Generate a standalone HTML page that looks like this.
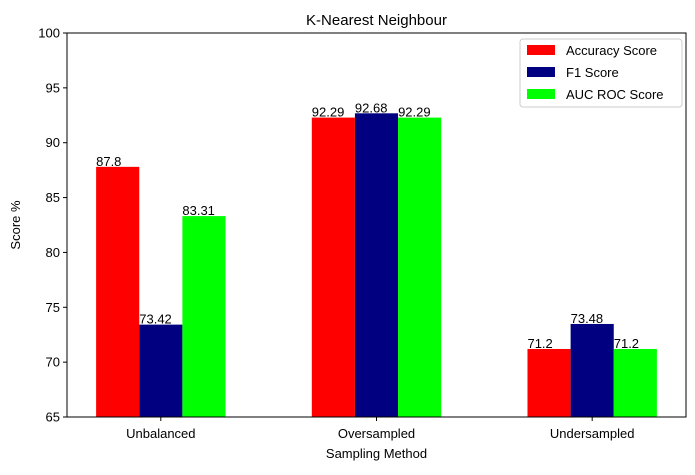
<!DOCTYPE html>
<html><head><meta charset="utf-8"><style>
body{margin:0;background:#fff;font-family:"Liberation Sans","DejaVu Sans",sans-serif;}
</style></head><body>
<svg id="c" width="695" height="470" xmlns="http://www.w3.org/2000/svg"></svg>
<script>
const categories=["Unbalanced","Oversampled","Undersampled"];
const seriesNames=["Accuracy Score","F1 Score","AUC ROC Score"];
const seriesColors=["#ff0000","#000080","#00ff00"];
const accuracy=[87.8,92.29,71.2];
const f1=[73.42,92.68,73.48];
const auc=[83.31,92.29,71.2];
const valueLabels=[["87.8","92.29","71.2"],["73.42","92.68","73.48"],["83.31","92.29","71.2"]];
const yTicks=[65,70,75,80,85,90,95,100];
const series=[accuracy,f1,auc];

const L=67,R=686,T=33,B=417,xmin=-0.435,xmax=2.435,ymin=65,ymax=100;
const sx=v=>L+(v-xmin)/(xmax-xmin)*(R-L);
const sy=v=>B-(v-ymin)/(ymax-ymin)*(B-T);
const svg=document.getElementById('c');
const NS="http://www.w3.org/2000/svg";
function mk(tag,attrs,parent){const e=document.createElementNS(NS,tag);for(const k in attrs)e.setAttribute(k,attrs[k]);(parent||svg).appendChild(e);return e;}
const w=0.2;
series.forEach((s,si)=>{s.forEach((v,ci)=>{
  const x0=sx(ci+(si-1)*w-w/2),x1=sx(ci+(si-1)*w+w/2);
  const r=mk('rect',{x:x0,y:sy(v),width:x1-x0,height:B-sy(v),fill:seriesColors[si]});
  
  
  const t=mk('text',{x:x0,y:sy(v)-1,'font-size':13,fill:'#000'});t.textContent=valueLabels[si][ci];
  
  
});});
const frame=mk('rect',{x:L,y:T,width:R-L,height:B-T,fill:'none',stroke:'#000','stroke-width':1});


yTicks.forEach(v=>{
  mk('line',{x1:L-4,x2:L,y1:sy(v),y2:sy(v),stroke:'#000'});
  const t=mk('text',{x:L-7,y:sy(v)+4.5,'font-size':13,'text-anchor':'end'});t.textContent=v;
  
  
});
categories.forEach((c,i)=>{
  mk('line',{x1:sx(i),x2:sx(i),y1:B,y2:B+4,stroke:'#000'});
  const t=mk('text',{x:sx(i),y:B+21,'font-size':13,'text-anchor':'middle'});t.textContent=c;
  
  
});
let t=mk('text',{x:(L+R)/2,y:25,'font-size':15,'text-anchor':'middle'});t.textContent="K-Nearest Neighbour";


t=mk('text',{x:(L+R)/2,y:458,'font-size':13,'text-anchor':'middle'});t.textContent="Sampling Method";


t=mk('text',{x:20,y:(T+B)/2,'font-size':13,'text-anchor':'middle',transform:`rotate(-90 20 ${(T+B)/2})`});t.textContent="Score %";


const lg=mk('g',{});


mk('rect',{x:520,y:39,width:162,height:68,rx:3,fill:'#fff',stroke:'#ccc'},lg);
seriesNames.forEach((n,i)=>{
  const y=45+i*22;
  mk('rect',{x:527,y:y,width:28,height:10,fill:seriesColors[i]},lg);
  const e=mk('text',{x:566,y:y+10,'font-size':13},lg);e.textContent=n;
  
  
});
</script>
</body></html>
